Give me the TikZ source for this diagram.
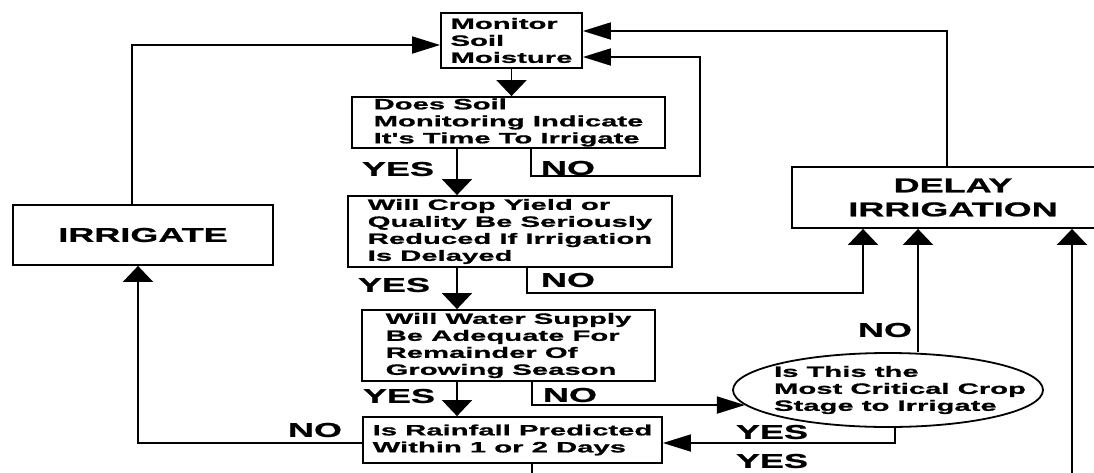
\documentclass[tikz,border=0pt]{standalone}
\usepackage{fontspec}
\usetikzlibrary{arrows.meta,shapes.geometric}
\newfontfamily\flowfont{Liberation Sans Bold}[FakeStretch=1.95,FakeBold=1]
\newfontfamily\flowbigfont{Liberation Sans Bold}[FakeStretch=1.8,FakeBold=1]
\newcommand\flowsmall{\flowfont\fontsize{15}{17}\selectfont}
\newcommand\flowbig{\flowbigfont\fontsize{20}{24}\selectfont}
\tikzset{
  box/.style={draw,line width=1.8pt,align=left,inner sep=0pt,font=\flowsmall},
  bigbox/.style={draw,line width=1.8pt,align=center,inner sep=0pt,font=\flowbig},
  answer/.style={font=\flowbig,inner sep=0pt},
  varr/.style={-{Triangle[length=16pt,width=30pt]}},
  harr/.style={-{Triangle[length=28pt,width=17pt]}}
}
\begin{document}
\begin{tikzpicture}[x=1pt,y=-1pt,line width=1.8pt]
  \clip (0,0) rectangle (1094,472);
  \draw
    (511.5,40.5) node[box,minimum width=141,minimum height=55] (monitor) {Monitor\\Soil\\Moisture}
    (508.5,122.5) node[box,minimum width=313,minimum height=51] (soil) {Does Soil\\Monitoring Indicate\\It's Time To Irrigate}
    (510,231.5) node[box,minimum width=324,minimum height=71] (crop) {Will Crop Yield or\\Quality Be Seriously\\Reduced If Irrigation\\Is Delayed}
    (508.5,345.5) node[box,minimum width=293,minimum height=71] (water) {Will Water Supply\\Be Adequate For\\Remainder Of\\Growing Season}
    (512.5,440) node[box,minimum width=299,minimum height=46] (rain) {Is Rainfall Predicted\\Within 1 or 2 Days}
    (143,235) node[bigbox,minimum width=260,minimum height=60] (irrigate) {IRRIGATE}
    (953,197.5) node[bigbox,minimum width=322,minimum height=61] (delay) {DELAY\\IRRIGATION}
    (888,390) node[box,ellipse,minimum width=310,minimum height=74,inner xsep=-50pt] (crit) {\hspace*{24pt}Is This the\\\hspace*{24pt}Most Critical Crop\\\hspace*{24pt}Stage to Irrigate};
  \draw
    (398,169) node[answer] (soilyes) {YES}
    (568,168) node[answer] (soilnolbl) {NO}
    (394,285) node[answer] (cropyes) {YES}
    (568,280) node[answer] (cropnolbl) {NO}
    (399,396) node[answer] (wateryes) {YES}
    (570,395) node[answer] (waternolbl) {NO}
    (315,430) node[answer] (rainno) {NO}
    (885,330) node[answer] (critnolbl) {NO}
    (772,432) node[answer] (crityeslbl) {YES}
    (772,461) node[answer] (rainyes) {YES};
  \coordinate (yescol) at (457,0);
  \coordinate (soilno) at (531,0);
  \coordinate (soilup) at (700,176);
  \coordinate (cropno) at (527,0);
  \coordinate (cropup) at (863,293);
  \coordinate (waterno) at (532,0);
  \coordinate (topcol) at (947,0);
  \coordinate (irrcol) at (132,0);
  \coordinate (lowrow) at (1072,490);
  \begin{scope}
    \draw[varr] (monitor.south) -- (monitor.south |- soil.north);
    \draw[varr] (soil.south -| yescol) -- (crop.north -| yescol);
    \draw[varr] (crop.south -| yescol) -- (water.north -| yescol);
    \draw[varr] (water.south -| yescol) -- (rain.north -| yescol);
    \draw[harr] (soil.south -| soilno) |- (soilup) |- ([yshift=-16.5pt]monitor.east);
    \draw[harr] (delay.north -| topcol) |- ([yshift=9.5pt]monitor.east);
    \draw[harr] (irrigate.north -| irrcol) |- ([yshift=-4.5pt]monitor.west);
    \draw[varr] (crop.south -| cropno) |- (cropup) -- (delay.south -| cropup);
    \draw[harr] (water.south -| waterno) |- (crit.186);
    \draw[harr] ([xshift=7pt]crit.south) |- ([yshift=-3pt]rain.east);
    \draw[varr] ([xshift=30pt]crit.north) coordinate (critno) -- (delay.south -| critno);
    \draw[varr] (rain.south -| waterno) |- (lowrow) -- (delay.south -| lowrow);
    \draw[varr] ([yshift=-3pt]rain.west) -| ([xshift=-5pt]irrigate.south);
  \end{scope}
\end{tikzpicture}
\end{document}
